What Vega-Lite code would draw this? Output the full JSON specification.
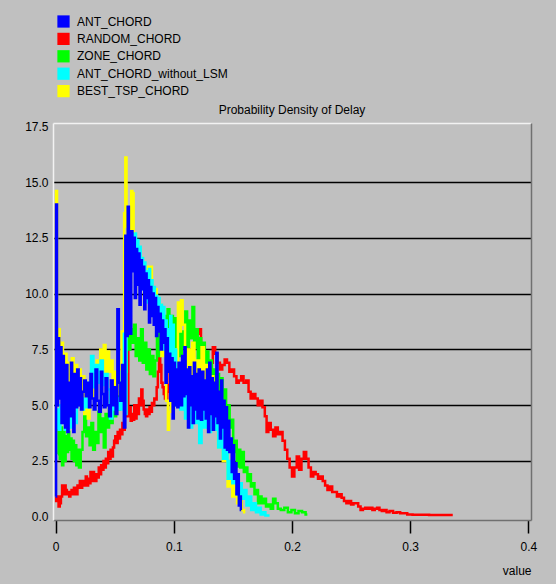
{
  "$schema": "https://vega.github.io/schema/vega-lite/v6.json",
  "width": 478,
  "height": 397,
  "autosize": {"type": "none"},
  "padding": {"left": 53, "top": 123, "right": 25, "bottom": 64},
  "background": "#c0c0c0",
  "config": {"view": {"stroke": null}, "font": "Liberation Sans"},
  "title": {"text": "Probability Density of Delay", "fontSize": 12, "fontWeight": "normal", "color": "black", "offset": 6, "dy": 108, "font": "Liberation Sans"},
  "resolve": {"axis": {"x": "independent", "y": "independent"}},
  "layer": [
    {
      "data": {"values": [
        {"x":0,"y":0.9},{"x":0.001,"y":0.7},{"x":0.002,"y":0.9},{"x":0.003,"y":0.45},{"x":0.004,"y":0.6},{"x":0.005,"y":0.9},{"x":0.006,"y":1.4},{"x":0.007,"y":1.0},{"x":0.008,"y":1.4},{"x":0.009,"y":1.2},{"x":0.010,"y":1.0},{"x":0.011,"y":1.1},{"x":0.012,"y":0.9},{"x":0.013,"y":1.0},{"x":0.014,"y":1.2},{"x":0.015,"y":1.0},{"x":0.016,"y":1.3},{"x":0.017,"y":1.1},{"x":0.018,"y":1.0},{"x":0.019,"y":1.4},{"x":0.020,"y":1.3},{"x":0.021,"y":1.6},{"x":0.022,"y":1.3},{"x":0.023,"y":1.6},{"x":0.024,"y":1.4},{"x":0.025,"y":1.5},{"x":0.026,"y":1.8},{"x":0.027,"y":1.4},{"x":0.028,"y":1.7},{"x":0.029,"y":1.5},{"x":0.030,"y":2.0},{"x":0.031,"y":1.6},{"x":0.032,"y":2.0},{"x":0.033,"y":1.8},{"x":0.034,"y":1.6},{"x":0.035,"y":1.9},{"x":0.036,"y":1.75},{"x":0.037,"y":2.2},{"x":0.038,"y":1.9},{"x":0.039,"y":2.3},{"x":0.040,"y":2.1},{"x":0.041,"y":2.5},{"x":0.042,"y":2.2},{"x":0.043,"y":2.6},{"x":0.044,"y":2.4},{"x":0.045,"y":2.9},{"x":0.046,"y":2.6},{"x":0.047,"y":3.0},{"x":0.048,"y":2.7},{"x":0.049,"y":3.1},{"x":0.050,"y":3.4},{"x":0.051,"y":3.6},{"x":0.052,"y":3.3},{"x":0.053,"y":3.8},{"x":0.054,"y":3.5},{"x":0.055,"y":3.9},{"x":0.056,"y":3.7},{"x":0.057,"y":4.2},{"x":0.058,"y":3.9},{"x":0.059,"y":4.5},{"x":0.060,"y":4.7},{"x":0.061,"y":7.5},{"x":0.062,"y":4.5},{"x":0.063,"y":4.9},{"x":0.064,"y":4.3},{"x":0.065,"y":4.6},{"x":0.066,"y":4.35},{"x":0.067,"y":5.0},{"x":0.068,"y":4.4},{"x":0.069,"y":5.0},{"x":0.070,"y":4.6},{"x":0.071,"y":5.3},{"x":0.072,"y":5.0},{"x":0.073,"y":5.7},{"x":0.074,"y":5.2},{"x":0.075,"y":4.8},{"x":0.076,"y":4.6},{"x":0.077,"y":4.5},{"x":0.078,"y":4.8},{"x":0.079,"y":4.6},{"x":0.080,"y":4.9},{"x":0.081,"y":4.7},{"x":0.082,"y":5.1},{"x":0.083,"y":5.0},{"x":0.084,"y":5.3},{"x":0.085,"y":5.25},{"x":0.086,"y":5.8},{"x":0.087,"y":6.5},{"x":0.088,"y":7.35},{"x":0.089,"y":6.8},{"x":0.090,"y":6.0},{"x":0.091,"y":5.8},{"x":0.092,"y":5.5},{"x":0.093,"y":5.3},{"x":0.094,"y":5.25},{"x":0.095,"y":5.6},{"x":0.096,"y":5.9},{"x":0.097,"y":6.4},{"x":0.098,"y":6.5},{"x":0.099,"y":6.7},{"x":0.100,"y":6.5},{"x":0.102,"y":6.9},{"x":0.104,"y":6.4},{"x":0.106,"y":6.8},{"x":0.108,"y":6.6},{"x":0.110,"y":7.0},{"x":0.112,"y":6.7},{"x":0.114,"y":7.5},{"x":0.116,"y":7.2},{"x":0.118,"y":7.8},{"x":0.120,"y":8.2},{"x":0.122,"y":8.4},{"x":0.124,"y":7.6},{"x":0.126,"y":7.1},{"x":0.128,"y":6.8},{"x":0.130,"y":6.6},{"x":0.132,"y":6.9},{"x":0.134,"y":7.6},{"x":0.136,"y":7.3},{"x":0.138,"y":6.9},{"x":0.140,"y":6.6},{"x":0.142,"y":6.8},{"x":0.144,"y":7.05},{"x":0.146,"y":6.9},{"x":0.148,"y":6.5},{"x":0.150,"y":6.6},{"x":0.152,"y":6.3},{"x":0.154,"y":6.0},{"x":0.156,"y":6.1},{"x":0.158,"y":6.3},{"x":0.160,"y":6.0},{"x":0.1625,"y":6.1},{"x":0.164,"y":5.6},{"x":0.166,"y":5.3},{"x":0.168,"y":5.5},{"x":0.170,"y":5.3},{"x":0.172,"y":5.0},{"x":0.174,"y":5.2},{"x":0.176,"y":4.9},{"x":0.178,"y":4.5},{"x":0.179,"y":3.8},{"x":0.181,"y":4.2},{"x":0.183,"y":3.9},{"x":0.185,"y":3.6},{"x":0.187,"y":4.0},{"x":0.189,"y":3.7},{"x":0.191,"y":3.8},{"x":0.193,"y":3.4},{"x":0.195,"y":3.0},{"x":0.197,"y":2.6},{"x":0.199,"y":2.2},{"x":0.201,"y":1.8},{"x":0.203,"y":2.2},{"x":0.205,"y":2.7},{"x":0.207,"y":2.1},{"x":0.209,"y":2.6},{"x":0.211,"y":2.9},{"x":0.213,"y":2.6},{"x":0.215,"y":2.2},{"x":0.217,"y":1.8},{"x":0.219,"y":2.0},{"x":0.221,"y":1.9},{"x":0.223,"y":1.7},{"x":0.225,"y":1.8},{"x":0.227,"y":1.6},{"x":0.229,"y":1.4},{"x":0.231,"y":1.2},{"x":0.233,"y":1.35},{"x":0.235,"y":1.1},{"x":0.237,"y":1.1},{"x":0.239,"y":0.9},{"x":0.241,"y":1.0},{"x":0.243,"y":0.85},{"x":0.245,"y":0.7},{"x":0.247,"y":0.6},{"x":0.249,"y":0.7},{"x":0.251,"y":0.55},{"x":0.253,"y":0.6},{"x":0.255,"y":0.6},{"x":0.257,"y":0.45},{"x":0.259,"y":0.3},{"x":0.261,"y":0.35},{"x":0.263,"y":0.4},{"x":0.265,"y":0.35},{"x":0.267,"y":0.4},{"x":0.269,"y":0.3},{"x":0.271,"y":0.35},{"x":0.273,"y":0.4},{"x":0.275,"y":0.3},{"x":0.277,"y":0.25},{"x":0.279,"y":0.3},{"x":0.281,"y":0.2},{"x":0.284,"y":0.25},{"x":0.287,"y":0.18},{"x":0.290,"y":0.2},{"x":0.293,"y":0.15},{"x":0.296,"y":0.15},{"x":0.299,"y":0.1},{"x":0.305,"y":0.08},{"x":0.312,"y":0.08},{"x":0.320,"y":0.07},{"x":0.328,"y":0.07},{"x":0.336,"y":0.07}
      ]},
      "mark": {"type": "line", "interpolate": "step", "strokeWidth": 2.5, "clip": true},
      "encoding": {
        "x": {"field": "x", "type": "quantitative", "scale": {"domain": [-0.0022, 0.4022], "nice": false, "zero": false},
          "axis": {"orient": "bottom", "values": [0, 0.1, 0.2, 0.3, 0.4], "format": "~g", "grid": false, "domainColor": "#707070", "domainWidth": 1.5, "tickColor": "black", "tickSize": 13, "tickWidth": 1.5, "labelFontSize": 12, "labelColor": "black", "labelFont": "Liberation Sans", "labelPadding": 8, "title": "value", "titleAnchor": "end", "titleFontSize": 12, "titleFontWeight": "normal", "titleColor": "black", "titleFont": "Liberation Sans", "titlePadding": 13}},
        "y": {"field": "y", "type": "quantitative", "scale": {"domain": [-0.15, 17.65], "nice": false, "zero": false},
          "axis": {"orient": "left", "values": [0, 2.5, 5, 7.5, 10, 12.5, 15, 17.5], "format": ".1f", "ticks": false, "domainColor": "#f2f2f2", "domainWidth": 1.5, "labelFontSize": 12, "labelColor": "black", "labelFont": "Liberation Sans", "labelPadding": 5, "title": null, "grid": true, "gridWidth": 1.5, "gridColor": {"condition": {"test": "datum.value == 0 || datum.value == 17.5", "value": "transparent"}, "value": "black"}}},
        "color": {"datum": "RANDOM_CHORD", "type": "nominal",
          "scale": {"domain": ["ANT_CHORD", "RANDOM_CHORD", "ZONE_CHORD", "ANT_CHORD_without_LSM", "BEST_TSP_CHORD"], "range": ["#0000ff", "#ff0000", "#00ff00", "#00ffff", "#ffff00"]},
          "legend": {"orient": "none", "legendX": 4, "legendY": -108, "title": null, "padding": 0, "symbolType": "square", "symbolSize": 150, "symbolStrokeWidth": 0, "labelFontSize": 12, "labelFont": "Liberation Sans", "labelColor": "black", "rowPadding": 4.4, "labelOffset": 7,
            "encode": {"symbols": {"update": {"fill": {"scale": "color", "field": "value"}, "fillOpacity": {"value": 1}, "strokeWidth": {"value": 0}}}}}}
      }
    },
    {
      "data": {"values": [
        {"x":0.002,"y":2.8},{"x":0.003,"y":3.9},{"x":0.004,"y":2.6},{"x":0.005,"y":4.0},{"x":0.006,"y":2.3},{"x":0.007,"y":3.8},{"x":0.008,"y":2.5},{"x":0.009,"y":3.6},{"x":0.010,"y":2.9},{"x":0.011,"y":3.8},{"x":0.012,"y":3.0},{"x":0.013,"y":3.5},{"x":0.014,"y":2.6},{"x":0.015,"y":3.4},{"x":0.016,"y":2.5},{"x":0.017,"y":3.2},{"x":0.018,"y":2.3},{"x":0.019,"y":3.0},{"x":0.0205,"y":2.2},{"x":0.022,"y":3.0},{"x":0.0235,"y":3.8},{"x":0.025,"y":4.5},{"x":0.0265,"y":3.6},{"x":0.028,"y":4.0},{"x":0.0295,"y":3.2},{"x":0.031,"y":4.2},{"x":0.0325,"y":3.0},{"x":0.034,"y":3.8},{"x":0.0355,"y":3.3},{"x":0.037,"y":4.7},{"x":0.0385,"y":3.8},{"x":0.040,"y":4.4},{"x":0.0415,"y":3.1},{"x":0.043,"y":4.6},{"x":0.0445,"y":4.0},{"x":0.046,"y":4.9},{"x":0.0475,"y":4.2},{"x":0.049,"y":5.0},{"x":0.0505,"y":4.5},{"x":0.052,"y":5.4},{"x":0.0535,"y":4.8},{"x":0.055,"y":5.6},{"x":0.0565,"y":5.2},{"x":0.058,"y":5.8},{"x":0.0595,"y":6.5},{"x":0.061,"y":8.7},{"x":0.0625,"y":7.5},{"x":0.064,"y":8.4},{"x":0.0655,"y":7.8},{"x":0.067,"y":8.6},{"x":0.0685,"y":7.2},{"x":0.070,"y":8.0},{"x":0.0715,"y":7.0},{"x":0.073,"y":8.4},{"x":0.0745,"y":6.9},{"x":0.076,"y":7.8},{"x":0.0775,"y":6.6},{"x":0.079,"y":7.5},{"x":0.0805,"y":6.4},{"x":0.082,"y":7.2},{"x":0.0835,"y":6.3},{"x":0.085,"y":7.0},{"x":0.0865,"y":8.4},{"x":0.088,"y":7.2},{"x":0.0895,"y":8.2},{"x":0.091,"y":7.6},{"x":0.0925,"y":9.0},{"x":0.094,"y":8.1},{"x":0.0955,"y":9.3},{"x":0.097,"y":8.3},{"x":0.0985,"y":9.0},{"x":0.100,"y":7.5},{"x":0.1015,"y":8.9},{"x":0.103,"y":7.6},{"x":0.1045,"y":8.4},{"x":0.106,"y":7.2},{"x":0.1075,"y":8.3},{"x":0.109,"y":7.6},{"x":0.1105,"y":9.2},{"x":0.112,"y":7.6},{"x":0.1135,"y":8.8},{"x":0.115,"y":8.0},{"x":0.1165,"y":9.4},{"x":0.118,"y":7.6},{"x":0.1195,"y":8.4},{"x":0.121,"y":6.5},{"x":0.1225,"y":8.0},{"x":0.124,"y":6.8},{"x":0.1255,"y":7.8},{"x":0.127,"y":6.3},{"x":0.1285,"y":7.4},{"x":0.130,"y":6.5},{"x":0.1315,"y":7.0},{"x":0.133,"y":5.6},{"x":0.1345,"y":6.6},{"x":0.136,"y":5.4},{"x":0.1375,"y":6.4},{"x":0.139,"y":5.0},{"x":0.1405,"y":6.2},{"x":0.142,"y":4.7},{"x":0.1435,"y":5.7},{"x":0.145,"y":4.4},{"x":0.1465,"y":5.0},{"x":0.148,"y":4.0},{"x":0.1495,"y":4.35},{"x":0.151,"y":2.9},{"x":0.1525,"y":3.4},{"x":0.154,"y":2.25},{"x":0.1555,"y":3.0},{"x":0.157,"y":2.2},{"x":0.1585,"y":2.9},{"x":0.160,"y":2.0},{"x":0.1615,"y":2.2},{"x":0.163,"y":1.6},{"x":0.1645,"y":1.9},{"x":0.166,"y":1.35},{"x":0.1675,"y":1.5},{"x":0.169,"y":1.0},{"x":0.1705,"y":1.2},{"x":0.172,"y":0.6},{"x":0.1735,"y":0.9},{"x":0.175,"y":0.6},{"x":0.177,"y":0.8},{"x":0.179,"y":0.45},{"x":0.181,"y":0.55},{"x":0.183,"y":0.35},{"x":0.185,"y":0.8},{"x":0.187,"y":0.6},{"x":0.189,"y":0.35},{"x":0.192,"y":0.3},{"x":0.195,"y":0.4},{"x":0.198,"y":0.2},{"x":0.201,"y":0.3},{"x":0.204,"y":0.15},{"x":0.207,"y":0.25},{"x":0.210,"y":0.2},{"x":0.213,"y":0.1}
      ]},
      "mark": {"type": "line", "interpolate": "step", "strokeWidth": 2.5, "clip": true},
      "encoding": {
        "x": {"field": "x", "type": "quantitative", "axis": {"orient": "top", "labels": false, "ticks": false, "grid": false, "title": null, "domainColor": "#f2f2f2", "domainWidth": 1.5}},
        "y": {"field": "y", "type": "quantitative", "axis": {"orient": "right", "labels": false, "ticks": false, "grid": false, "title": null, "domainColor": "#707070", "domainWidth": 1.5}},
        "color": {"datum": "ZONE_CHORD", "type": "nominal"}
      }
    },
    {
      "data": {"values": [
        {"x":0,"y":6.0},{"x":0.0008,"y":14.6},{"x":0.0016,"y":6.5},{"x":0.0028,"y":8.4},{"x":0.004,"y":6.8},{"x":0.0055,"y":7.8},{"x":0.007,"y":6.0},{"x":0.0085,"y":7.3},{"x":0.010,"y":5.5},{"x":0.0115,"y":6.9},{"x":0.013,"y":5.8},{"x":0.0145,"y":7.1},{"x":0.016,"y":5.5},{"x":0.0175,"y":6.8},{"x":0.019,"y":5.8},{"x":0.0205,"y":6.6},{"x":0.022,"y":5.0},{"x":0.0235,"y":6.3},{"x":0.025,"y":4.6},{"x":0.0265,"y":5.9},{"x":0.028,"y":4.4},{"x":0.0295,"y":6.0},{"x":0.031,"y":5.3},{"x":0.0325,"y":6.5},{"x":0.034,"y":5.6},{"x":0.0355,"y":7.0},{"x":0.037,"y":6.2},{"x":0.0385,"y":7.5},{"x":0.040,"y":6.4},{"x":0.0415,"y":7.7},{"x":0.043,"y":6.3},{"x":0.0445,"y":7.4},{"x":0.046,"y":6.5},{"x":0.0475,"y":7.0},{"x":0.049,"y":5.8},{"x":0.0505,"y":6.5},{"x":0.052,"y":5.5},{"x":0.0535,"y":6.8},{"x":0.055,"y":6.0},{"x":0.0565,"y":8.3},{"x":0.0575,"y":7.0},{"x":0.0585,"y":13.6},{"x":0.0595,"y":16.1},{"x":0.0605,"y":13.0},{"x":0.0615,"y":12.4},{"x":0.0625,"y":13.2},{"x":0.0635,"y":12.0},{"x":0.0645,"y":14.6},{"x":0.0655,"y":14.5},{"x":0.0665,"y":12.7},{"x":0.0675,"y":12.2},{"x":0.0685,"y":11.8},{"x":0.0695,"y":12.0},{"x":0.0705,"y":11.0},{"x":0.0725,"y":11.6},{"x":0.0745,"y":10.5},{"x":0.0765,"y":11.2},{"x":0.0785,"y":10.3},{"x":0.0805,"y":11.2},{"x":0.0825,"y":9.6},{"x":0.0845,"y":10.2},{"x":0.0865,"y":8.8},{"x":0.0885,"y":9.5},{"x":0.0905,"y":7.2},{"x":0.0925,"y":8.4},{"x":0.0945,"y":5.2},{"x":0.0955,"y":3.9},{"x":0.0965,"y":4.7},{"x":0.0985,"y":6.0},{"x":0.1005,"y":7.5},{"x":0.1025,"y":6.2},{"x":0.1045,"y":9.6},{"x":0.1055,"y":8.3},{"x":0.1065,"y":9.7},{"x":0.1085,"y":8.6},{"x":0.1105,"y":5.0},{"x":0.1125,"y":7.5},{"x":0.1145,"y":5.5},{"x":0.1165,"y":7.8},{"x":0.1185,"y":5.0},{"x":0.1205,"y":7.0},{"x":0.1225,"y":6.1},{"x":0.1245,"y":7.6},{"x":0.1265,"y":5.4},{"x":0.1285,"y":6.8},{"x":0.1305,"y":5.0},{"x":0.1325,"y":6.3},{"x":0.1345,"y":4.0},{"x":0.1365,"y":4.6},{"x":0.1385,"y":3.1},{"x":0.1405,"y":4.0},{"x":0.1425,"y":2.5},{"x":0.1445,"y":3.0},{"x":0.1465,"y":1.35},{"x":0.1485,"y":2.0},{"x":0.1505,"y":0.9},{"x":0.1525,"y":1.7},{"x":0.1545,"y":0.6},{"x":0.1565,"y":1.0},{"x":0.1585,"y":0.3},{"x":0.1605,"y":0.2}
      ]},
      "mark": {"type": "line", "interpolate": "step", "strokeWidth": 2.5, "clip": true},
      "encoding": {
        "x": {"field": "x", "type": "quantitative", "axis": null},
        "y": {"field": "y", "type": "quantitative", "axis": null},
        "color": {"datum": "BEST_TSP_CHORD", "type": "nominal"}
      }
    },
    {
      "data": {"values": [
        {"x":0,"y":4.0},{"x":0.002,"y":4.8},{"x":0.003,"y":3.9},{"x":0.005,"y":5.0},{"x":0.007,"y":4.2},{"x":0.009,"y":3.9},{"x":0.011,"y":4.5},{"x":0.013,"y":4.0},{"x":0.015,"y":4.6},{"x":0.017,"y":4.2},{"x":0.019,"y":5.0},{"x":0.021,"y":5.4},{"x":0.023,"y":4.8},{"x":0.025,"y":5.3},{"x":0.027,"y":4.9},{"x":0.029,"y":6.0},{"x":0.031,"y":7.2},{"x":0.033,"y":5.8},{"x":0.035,"y":6.8},{"x":0.037,"y":6.0},{"x":0.039,"y":7.0},{"x":0.041,"y":5.9},{"x":0.043,"y":6.4},{"x":0.045,"y":5.7},{"x":0.047,"y":4.4},{"x":0.049,"y":5.4},{"x":0.051,"y":4.8},{"x":0.053,"y":5.3},{"x":0.055,"y":4.8},{"x":0.057,"y":6.5},{"x":0.0585,"y":8.2},{"x":0.0595,"y":4.6},{"x":0.0605,"y":11.5},{"x":0.0615,"y":12.3},{"x":0.0625,"y":9.0},{"x":0.0635,"y":12.5},{"x":0.0645,"y":11.8},{"x":0.0655,"y":12.7},{"x":0.0665,"y":12.2},{"x":0.0675,"y":12.7},{"x":0.0685,"y":11.5},{"x":0.0695,"y":12.4},{"x":0.0705,"y":11.3},{"x":0.0715,"y":12.1},{"x":0.0725,"y":10.8},{"x":0.0735,"y":11.6},{"x":0.0745,"y":10.2},{"x":0.0755,"y":11.4},{"x":0.0765,"y":10.0},{"x":0.0775,"y":11.0},{"x":0.0785,"y":9.6},{"x":0.0795,"y":11.1},{"x":0.0805,"y":10.2},{"x":0.0815,"y":10.6},{"x":0.0825,"y":9.2},{"x":0.0835,"y":10.3},{"x":0.0845,"y":9.0},{"x":0.0855,"y":9.9},{"x":0.0865,"y":8.5},{"x":0.0875,"y":9.8},{"x":0.0885,"y":8.4},{"x":0.0895,"y":9.5},{"x":0.0905,"y":8.0},{"x":0.0915,"y":9.4},{"x":0.0925,"y":7.5},{"x":0.0935,"y":8.8},{"x":0.0945,"y":7.0},{"x":0.0955,"y":8.4},{"x":0.0965,"y":6.5},{"x":0.0975,"y":9.0},{"x":0.0985,"y":6.2},{"x":0.0995,"y":8.6},{"x":0.1005,"y":5.6},{"x":0.1015,"y":7.5},{"x":0.1025,"y":5.0},{"x":0.1045,"y":6.4},{"x":0.1065,"y":4.8},{"x":0.1085,"y":6.8},{"x":0.1105,"y":4.4},{"x":0.1125,"y":6.1},{"x":0.1145,"y":4.0},{"x":0.1165,"y":5.9},{"x":0.1185,"y":4.2},{"x":0.1205,"y":5.5},{"x":0.1225,"y":3.3},{"x":0.1245,"y":5.0},{"x":0.1265,"y":4.0},{"x":0.1285,"y":4.8},{"x":0.1305,"y":3.8},{"x":0.1325,"y":5.0},{"x":0.1345,"y":3.9},{"x":0.1365,"y":4.6},{"x":0.1385,"y":3.1},{"x":0.1405,"y":4.2},{"x":0.1425,"y":2.6},{"x":0.1445,"y":3.5},{"x":0.1465,"y":1.7},{"x":0.1485,"y":2.5},{"x":0.1505,"y":1.5},{"x":0.1525,"y":1.9},{"x":0.1545,"y":1.0},{"x":0.1565,"y":1.5},{"x":0.1585,"y":0.8},{"x":0.1605,"y":1.2},{"x":0.1625,"y":0.5},{"x":0.1645,"y":0.9},{"x":0.1665,"y":0.3},{"x":0.1685,"y":0.6},{"x":0.1705,"y":0.2},{"x":0.1725,"y":0.4},{"x":0.1745,"y":0.1},{"x":0.1765,"y":0.2},{"x":0.1785,"y":0.05},{"x":0.181,"y":0.05}
      ]},
      "mark": {"type": "line", "interpolate": "step", "strokeWidth": 2.5, "clip": true},
      "encoding": {
        "x": {"field": "x", "type": "quantitative", "axis": null},
        "y": {"field": "y", "type": "quantitative", "axis": null},
        "color": {"datum": "ANT_CHORD_without_LSM", "type": "nominal"}
      }
    },
    {
      "data": {"values": [
        {"x":0,"y":0.9},{"x":0.0008,"y":14.0},{"x":0.0016,"y":5.0},{"x":0.0025,"y":8.0},{"x":0.0035,"y":5.3},{"x":0.0045,"y":7.6},{"x":0.0055,"y":4.2},{"x":0.0065,"y":7.2},{"x":0.0075,"y":5.8},{"x":0.0085,"y":4.0},{"x":0.0095,"y":6.8},{"x":0.0105,"y":3.8},{"x":0.0115,"y":6.0},{"x":0.0125,"y":4.5},{"x":0.0135,"y":6.9},{"x":0.0145,"y":5.2},{"x":0.0155,"y":3.8},{"x":0.0165,"y":6.4},{"x":0.0175,"y":4.9},{"x":0.019,"y":6.6},{"x":0.020,"y":5.0},{"x":0.021,"y":6.2},{"x":0.022,"y":4.8},{"x":0.0235,"y":5.6},{"x":0.025,"y":6.1},{"x":0.026,"y":5.4},{"x":0.0275,"y":6.0},{"x":0.029,"y":4.9},{"x":0.030,"y":6.4},{"x":0.0315,"y":5.3},{"x":0.033,"y":4.8},{"x":0.0345,"y":6.6},{"x":0.036,"y":5.2},{"x":0.0375,"y":4.7},{"x":0.039,"y":6.5},{"x":0.040,"y":5.5},{"x":0.0415,"y":4.9},{"x":0.043,"y":6.2},{"x":0.0445,"y":5.0},{"x":0.046,"y":4.5},{"x":0.0475,"y":6.1},{"x":0.049,"y":5.0},{"x":0.050,"y":5.8},{"x":0.0515,"y":4.6},{"x":0.053,"y":9.3},{"x":0.054,"y":6.0},{"x":0.0555,"y":5.2},{"x":0.057,"y":6.8},{"x":0.0585,"y":4.0},{"x":0.0595,"y":12.6},{"x":0.0605,"y":8.1},{"x":0.0615,"y":13.9},{"x":0.0625,"y":12.4},{"x":0.0635,"y":8.2},{"x":0.0645,"y":12.8},{"x":0.0655,"y":11.0},{"x":0.0665,"y":12.5},{"x":0.0675,"y":9.8},{"x":0.0685,"y":12.0},{"x":0.0695,"y":10.4},{"x":0.0705,"y":11.8},{"x":0.0715,"y":9.5},{"x":0.0725,"y":11.5},{"x":0.0735,"y":10.2},{"x":0.0745,"y":11.2},{"x":0.0755,"y":9.3},{"x":0.0765,"y":10.9},{"x":0.0775,"y":9.8},{"x":0.0785,"y":10.6},{"x":0.0795,"y":8.7},{"x":0.0805,"y":10.3},{"x":0.0815,"y":9.0},{"x":0.0825,"y":10.0},{"x":0.0835,"y":8.6},{"x":0.0845,"y":9.8},{"x":0.0855,"y":8.1},{"x":0.0865,"y":9.4},{"x":0.0875,"y":8.3},{"x":0.0885,"y":9.1},{"x":0.0895,"y":7.5},{"x":0.0905,"y":8.8},{"x":0.0915,"y":7.8},{"x":0.0925,"y":8.4},{"x":0.0935,"y":6.0},{"x":0.0945,"y":8.0},{"x":0.0955,"y":6.5},{"x":0.0965,"y":7.3},{"x":0.0975,"y":5.2},{"x":0.0985,"y":7.1},{"x":0.0995,"y":4.4},{"x":0.1005,"y":6.9},{"x":0.1015,"y":5.0},{"x":0.1025,"y":6.6},{"x":0.1035,"y":4.9},{"x":0.1045,"y":6.9},{"x":0.1055,"y":5.6},{"x":0.1065,"y":5.0},{"x":0.1075,"y":7.2},{"x":0.1085,"y":5.4},{"x":0.1095,"y":7.6},{"x":0.1105,"y":5.5},{"x":0.1115,"y":6.6},{"x":0.1125,"y":4.0},{"x":0.1135,"y":6.7},{"x":0.1145,"y":5.0},{"x":0.1155,"y":6.3},{"x":0.1165,"y":4.2},{"x":0.1175,"y":6.9},{"x":0.1185,"y":4.8},{"x":0.1195,"y":6.4},{"x":0.1205,"y":4.4},{"x":0.1215,"y":6.6},{"x":0.1225,"y":5.2},{"x":0.1235,"y":4.35},{"x":0.1245,"y":6.5},{"x":0.1255,"y":4.8},{"x":0.1265,"y":6.1},{"x":0.1275,"y":4.4},{"x":0.1285,"y":6.6},{"x":0.1295,"y":3.8},{"x":0.1305,"y":6.9},{"x":0.1315,"y":4.6},{"x":0.1325,"y":6.2},{"x":0.1335,"y":3.9},{"x":0.1345,"y":6.0},{"x":0.1355,"y":4.5},{"x":0.1365,"y":7.35},{"x":0.1375,"y":4.2},{"x":0.1385,"y":5.6},{"x":0.1395,"y":3.5},{"x":0.1405,"y":6.1},{"x":0.1415,"y":4.0},{"x":0.1425,"y":5.2},{"x":0.1435,"y":3.1},{"x":0.1445,"y":4.9},{"x":0.1455,"y":3.0},{"x":0.1465,"y":4.3},{"x":0.1475,"y":2.9},{"x":0.1485,"y":3.5},{"x":0.1495,"y":2.0},{"x":0.1505,"y":3.2},{"x":0.1515,"y":1.7},{"x":0.1525,"y":2.4},{"x":0.1535,"y":1.0},{"x":0.1545,"y":1.9},{"x":0.1555,"y":0.5},{"x":0.1565,"y":0.9},{"x":0.157,"y":0.3}
      ]},
      "mark": {"type": "line", "interpolate": "step", "strokeWidth": 2.5, "clip": true},
      "encoding": {
        "x": {"field": "x", "type": "quantitative", "axis": null},
        "y": {"field": "y", "type": "quantitative", "axis": null},
        "color": {"datum": "ANT_CHORD", "type": "nominal"}
      }
    }
  ]
}
